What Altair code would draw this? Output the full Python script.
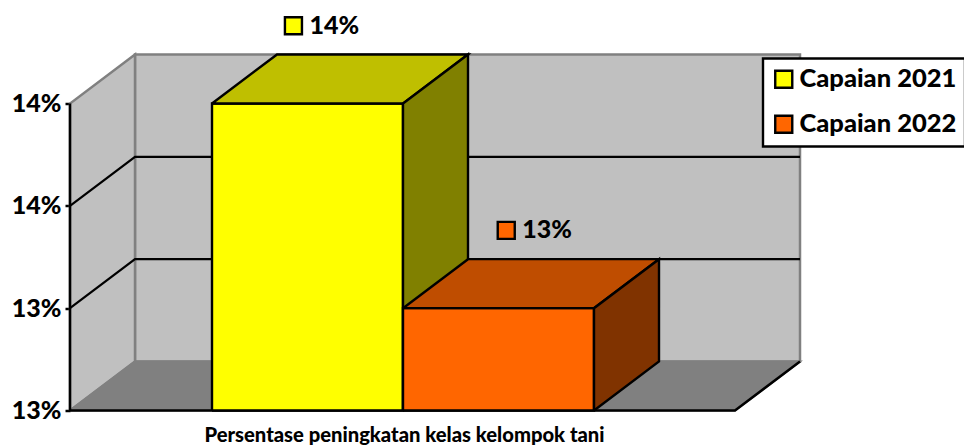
import altair as alt
import pandas as pd

# values
series = ["Capaian 2021", "Capaian 2022"]
values = [0.14, 0.13]
front_colors = ["#FFFF00", "#FF6600"]
top_colors = ["#BFBF00", "#BF4D00"]
side_colors = ["#808000", "#803300"]
ticks = [0.125, 0.13, 0.135, 0.14]
gridlines = [0.13, 0.135]
label_x = [0.336, 0.656]      # marker position in category units
label_y_offset = 0.0038
axis_title = "Persentase peningkatan kelas kelompok tani"

# 3D frame in data units
Y0 = 0.125
X_MAX = 732 / 665
Y_MAX = Y0 + 356 / 307 * 0.015
DX = 65 / 665
DY = 49 / 307 * 0.015
GAP = 142 / 665
BAR = 191 / 665

x_enc = alt.X("x:Q", scale=alt.Scale(domain=[0, X_MAX], nice=False, zero=False),
              axis=alt.Axis(domain=False, ticks=False, labels=False, grid=False,
                            title=axis_title, titleFont="Lato", titleFontSize=20.2,
                            titleFontWeight=900, titleColor="black",
                            titleX=334, titleY=25, titleBaseline="middle"))
y_enc = alt.Y("y:Q", scale=alt.Scale(domain=[Y0, Y_MAX], nice=False, zero=False),
              axis=alt.Axis(values=ticks, format=".0%", domain=False, grid=False, title=None,
                            tickColor="black", tickWidth=2.5, tickSize=5,
                            labelFont="Lato", labelFontSize=25, labelFontWeight=900,
                            labelColor="black", labelPadding=4))


def poly(points, fill=None, stroke="black", width=2.4):
    df = pd.DataFrame([{"x": p[0], "y": p[1], "i": k} for k, p in enumerate(points)])
    kw = dict(stroke=stroke, strokeWidth=width, strokeJoin="miter", clip=False)
    if fill:
        kw["fill"] = fill
    return alt.Chart(df).mark_line(**kw).encode(x=x_enc, y=y_enc, order="i:Q")


F = 1.0  # floor width in category units
layers = [
    # back wall
    poly([(DX, Y0 + DY), (DX, Y_MAX), (F + DX, Y_MAX), (F + DX, Y0 + DY), (DX, Y0 + DY)], "#C0C0C0", "#808080", 2.5),
    # side wall
    poly([(0, Y0), (0, 0.14), (DX, Y_MAX), (DX, Y0 + DY), (0, Y0)], "#C0C0C0", "#808080", 2.5),
    # floor
    poly([(0, Y0), (DX, Y0 + DY), (F + DX, Y0 + DY), (F, Y0), (0, Y0)], "#808080", "#808080", 2),
    poly([(F + DX, Y0 + DY), (F, Y0), (0, Y0), (0, 0.14)], None, "black", 2.5),
]
for g in gridlines:
    layers.append(poly([(0, g), (DX, g + DY), (F + DX, g + DY)], None, "black", 2.2))

for k, v in enumerate(values):
    x0 = GAP + k * BAR
    x1 = x0 + BAR
    layers += [
        poly([(x0, Y0), (x0, v), (x1, v), (x1, Y0), (x0, Y0)], front_colors[k]),
        poly([(x0, v), (x0 + DX, v + DY), (x1 + DX, v + DY), (x1, v), (x0, v)], top_colors[k]),
        poly([(x1, Y0), (x1, v), (x1 + DX, v + DY), (x1 + DX, Y0 + DY), (x1, Y0)], side_colors[k]),
    ]

labels = pd.DataFrame({
    "series": series,
    "x": label_x,
    "y": [v + label_y_offset for v in values],
    "text": [f"{round(v * 100)}%" for v in values],
})

markers = alt.Chart(labels).mark_square(size=290, opacity=1, stroke="black", strokeWidth=2.4, clip=False).encode(
    x=x_enc, y=y_enc,
    fill=alt.Fill("series:N",
                  scale=alt.Scale(domain=series, range=front_colors),
                  legend=alt.Legend(title=None, orient="none", legendX=693, legendY=4,
                                    fillColor="white", strokeColor="black", padding=8,
                                    labelFont="Lato", labelFontSize=25.5, labelFontWeight=900,
                                    labelColor="black", symbolType="square", symbolSize=290,
                                    symbolStrokeColor="black", symbolStrokeWidth=2.4,
                                    rowPadding=17, labelOffset=3)),
)
texts = alt.Chart(labels).mark_text(align="left", baseline="middle", dx=16, font="Lato", fontSize=25,
                                    fontWeight=900, color="black", clip=False).encode(
    x=x_enc, y=y_enc, text="text:N")

chart = alt.layer(*layers, markers, texts).properties(
    width=732, height=356,
    padding={"left": 62, "top": 46.5, "right": 162, "bottom": 37.5},
    autosize=alt.AutoSizeParams(type="none"),
).configure_view(stroke=None).configure_legend(strokeWidth=2.4)

chart.save("out.html", embed_options={"renderer": "svg", "actions": False})
